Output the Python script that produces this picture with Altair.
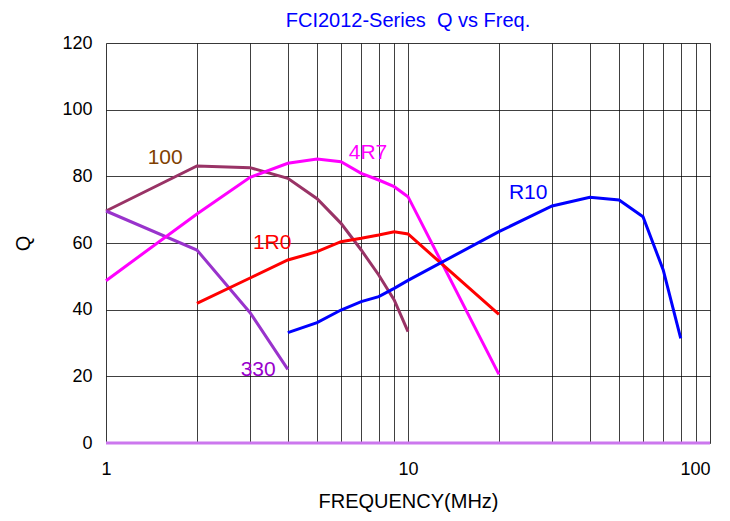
import altair as alt
import pandas as pd

freq_100 = [1, 2, 3, 4, 5, 6, 7, 8, 9, 10]
q_100 = [69.6, 83.1, 82.6, 79.4, 73.3, 65.9, 57.9, 50.4, 42.9, 33.4]

freq_330 = [1, 2, 3, 4]
q_330 = [69.6, 57.9, 39.1, 22.1]

freq_4r7 = [1, 2, 3, 4, 5, 6, 7, 8, 9, 10, 20]
q_4r7 = [48.7, 68.7, 79.7, 83.9, 85.2, 84.4, 80.9, 78.9, 76.9, 73.9, 20.6]

freq_1r0 = [2, 3, 4, 5, 6, 7, 8, 9, 10, 20]
q_1r0 = [41.9, 49.5, 54.9, 57.4, 60.4, 61.4, 62.4, 63.4, 62.7, 38.6]

freq_r10 = [4, 5, 6, 7, 8, 9, 10, 20, 30, 40, 50, 60, 70, 80]
q_r10 = [33.1, 36.1, 39.9, 42.4, 43.9, 46.4, 48.8, 63.4, 71.1, 73.7, 72.9, 67.9, 51.9, 31.4]

series_names = ["100", "330", "4R7", "1R0", "R10"]
series_colors = ["#993366", "#9933cc", "#ff00ff", "#ff0000", "#0000ff"]
label_colors = ["#804000", "#9900cc", "#ff00ff", "#ff0000", "#0000ff"]
label_freq = [1.57, 3.19, 7.37, 3.55, 25.0]
label_q = [85.5, 21.9, 87.0, 60.0, 75.0]

x_grid = [1, 2, 3, 4, 5, 6, 7, 8, 9, 10, 20, 30, 40, 50, 60, 70, 80, 90, 100]

rows = []
for name, fs, qs in zip(series_names,
                        [freq_100, freq_330, freq_4r7, freq_1r0, freq_r10],
                        [q_100, q_330, q_4r7, q_1r0, q_r10]):
    for f, q in zip(fs, qs):
        rows.append({"series": name, "freq": f, "q": q})
df = pd.DataFrame(rows)

labels_df = pd.DataFrame({"series": series_names, "freq": label_freq, "q": label_q})

xscale = alt.Scale(type="log", domain=[1, 100], nice=False)
yscale = alt.Scale(domain=[0, 120], nice=False)

xaxis = alt.Axis(values=x_grid, grid=True, gridColor="#000000", gridOpacity=0.75,
                 ticks=False, domain=False,
                 labelExpr="(datum.value == 1 || datum.value == 10 || datum.value == 100) ? datum.label : ''",
                 labelFontSize=18, labelFont="Liberation Sans", labelColor="#000000",
                 labelPadding=17, labelFlush=False,
                 labelAlign={"condition": {"test": "datum.value == 100", "value": "right"}, "value": "center"},
                 title="FREQUENCY(MHz)", titleFontSize=20, titleFont="Liberation Sans",
                 titleFontWeight="normal", titlePadding=13, titleColor="#000000",
                 format="d")
yaxis = alt.Axis(values=[0, 20, 40, 60, 80, 100, 120], grid=True, gridColor="#000000",
                 gridOpacity=0.75, ticks=False, domain=False,
                 labelFontSize=18, labelFont="Liberation Sans", labelColor="#000000",
                 labelPadding=14,
                 title="Q", titleFontSize=20, titleFont="Liberation Sans",
                 titleFontWeight="normal", titlePadding=28, titleColor="#000000")

base = alt.Chart(df)

lines = base.mark_line(strokeWidth=3).encode(
    x=alt.X("freq:Q", scale=xscale, axis=xaxis),
    y=alt.Y("q:Q", scale=yscale, axis=yaxis),
    color=alt.Color("series:N", scale=alt.Scale(domain=series_names, range=series_colors), legend=None),
    detail="series:N",
)

zero_df = pd.DataFrame({"freq": [1, 100], "q": [0, 0]})
zero_line = alt.Chart(zero_df).mark_line(strokeWidth=3, color="#cc77ee").encode(
    x=alt.X("freq:Q", scale=xscale),
    y=alt.Y("q:Q", scale=yscale),
)

texts = alt.Chart(labels_df).mark_text(fontSize=21, font="Liberation Sans", align="center", baseline="middle").encode(
    x=alt.X("freq:Q", scale=xscale),
    y=alt.Y("q:Q", scale=yscale),
    text="series:N",
    color=alt.Color("series:N", scale=alt.Scale(domain=series_names, range=label_colors), legend=None),
)

chart = alt.layer(zero_line, lines, texts).resolve_scale(color="independent").properties(
    width=604, height=400,
    title=alt.TitleParams("FCI2012-Series\u00a0 Q vs Freq.", color="#0000ff", fontSize=20,
                          font="Liberation Sans", fontWeight="normal", anchor="middle",
                          offset=3),
    autosize=alt.AutoSizeParams(type="none"),
    padding={"left": 98, "top": 35, "right": 12, "bottom": 70},
).configure_view(stroke="#000000", strokeWidth=1.5).configure(background="#ffffff")

chart.save("out.html", embed_options={"renderer": "svg", "actions": False})
